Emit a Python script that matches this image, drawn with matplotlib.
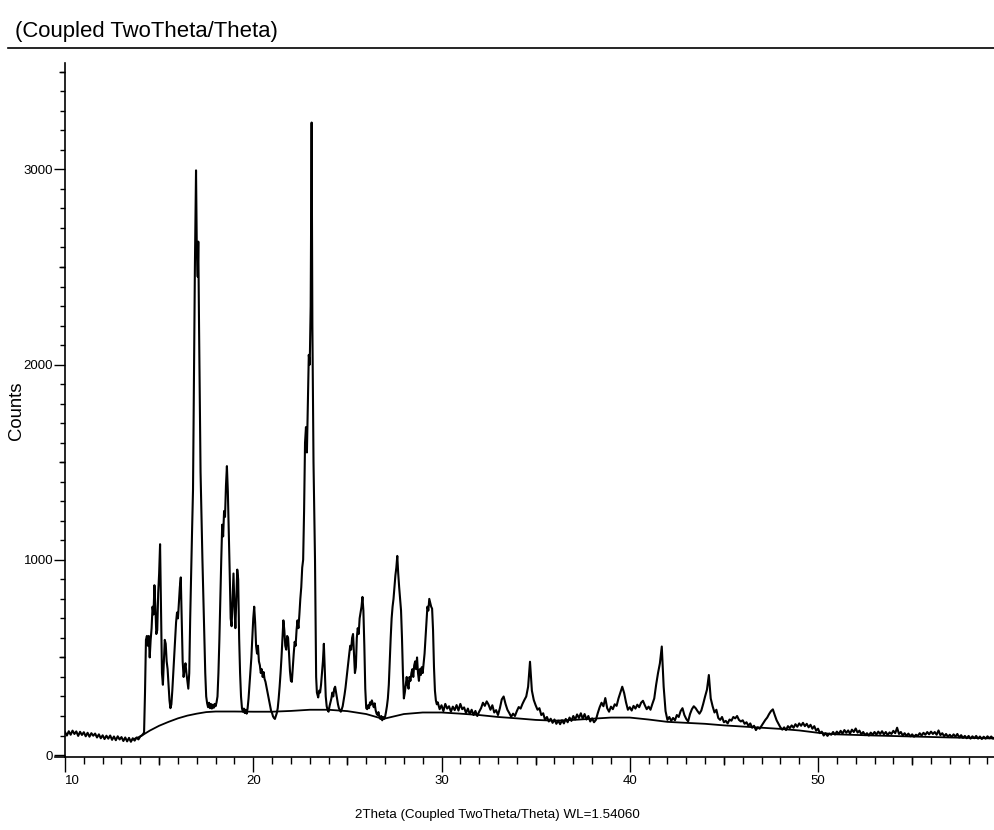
import matplotlib
matplotlib.use("Agg")
import matplotlib.pyplot as plt
from matplotlib.ticker import FixedLocator, MultipleLocator, NullFormatter

# ---------------- data ----------------
theta_low = [10.0, 10.1, 10.2, 10.3, 10.4, 10.5, 10.6, 10.7, 10.8, 10.9,
             11.0, 11.1, 11.2, 11.3, 11.4, 11.5, 11.6, 11.7, 11.8, 11.9,
             12.0, 12.1, 12.2, 12.3, 12.4, 12.5, 12.6, 12.7, 12.8, 12.9,
             13.0, 13.1, 13.2, 13.3, 13.4, 13.5, 13.6, 13.7, 13.8, 13.9,
             14.0, 14.1]
counts_low = [118, 100, 122, 104, 125, 108, 121, 98, 119, 103,
              117, 96, 114, 94, 112, 99, 110, 90, 106, 86,
              101, 82, 99, 84, 100, 78, 95, 76, 96, 80,
              92, 72, 90, 70, 88, 68, 86, 74, 90, 80,
              96, 102]

theta_peaks = [14.20, 14.25, 14.30, 14.35, 14.40, 14.45, 14.50, 14.55, 14.60, 14.65,
               14.70, 14.75, 14.80, 14.85, 14.90, 14.95, 15.00, 15.05, 15.10, 15.15,
               15.20, 15.25, 15.30, 15.35, 15.40, 15.45, 15.50, 15.55, 15.60, 15.65,
               15.70, 15.75, 15.80, 15.85, 15.90, 15.95, 16.00, 16.05, 16.10, 16.15,
               16.20, 16.25, 16.30, 16.35, 16.40, 16.45, 16.50, 16.55, 16.60, 16.65,
               16.70, 16.75, 16.80, 16.85, 16.90, 16.96, 17.00, 17.05, 17.08, 17.12,
               17.20, 17.30, 17.40, 17.45, 17.50, 17.55, 17.60, 17.65, 17.70, 17.75,
               17.80, 17.85, 17.90, 17.95, 18.00, 18.05, 18.10, 18.15, 18.20, 18.25,
               18.30, 18.35, 18.40, 18.45, 18.50, 18.55, 18.60, 18.65, 18.70, 18.75,
               18.80, 18.85, 18.90, 18.95, 19.00, 19.05, 19.10, 19.15, 19.20, 19.25,
               19.30, 19.35, 19.40, 19.45, 19.50, 19.55, 19.60, 19.65, 19.70, 19.75,
               19.80, 19.85, 19.90, 19.95, 20.00, 20.05, 20.10, 20.15, 20.20, 20.25,
               20.30, 20.35, 20.40, 20.45, 20.50, 20.55, 20.60, 20.65, 20.70, 20.75,
               20.80, 20.85, 20.90, 20.95, 21.00, 21.05, 21.10, 21.15, 21.20, 21.25,
               21.30, 21.35, 21.40, 21.45, 21.50, 21.55, 21.60, 21.65, 21.70, 21.75,
               21.80, 21.85, 21.90, 21.95, 22.00, 22.05, 22.10, 22.15, 22.20, 22.25,
               22.30, 22.35, 22.40, 22.45, 22.50, 22.55, 22.60, 22.65, 22.70, 22.75,
               22.80, 22.85, 22.90, 22.95, 23.00, 23.05, 23.10, 23.14, 23.20, 23.28,
               23.34, 23.38, 23.45, 23.50, 23.55, 23.60, 23.65, 23.70, 23.75, 23.80,
               23.85, 23.90, 23.95, 24.00, 24.05, 24.10, 24.15, 24.20, 24.25, 24.30,
               24.35, 24.40, 24.45, 24.50, 24.55, 24.60, 24.65, 24.70, 24.75, 24.80,
               24.85, 24.90, 24.95, 25.00, 25.05, 25.10, 25.15, 25.20, 25.25, 25.30,
               25.35, 25.40, 25.45, 25.50, 25.55, 25.60, 25.65, 25.70, 25.75, 25.80,
               25.85, 25.90, 25.95, 26.00, 26.05, 26.10, 26.15, 26.20, 26.25, 26.30,
               26.35, 26.40, 26.45, 26.50, 26.55, 26.60, 26.65, 26.70, 26.75, 26.80,
               26.85, 26.90, 26.95, 27.00, 27.05, 27.10, 27.15, 27.20, 27.25, 27.30,
               27.35, 27.40, 27.45, 27.50, 27.55, 27.60, 27.65, 27.70, 27.75, 27.80,
               27.85, 27.90, 27.95, 28.00, 28.05, 28.10, 28.15, 28.20, 28.25, 28.30,
               28.35, 28.40, 28.45, 28.50, 28.55, 28.60, 28.65, 28.70, 28.75, 28.80,
               28.85, 28.90, 28.95, 29.00, 29.05, 29.10, 29.15, 29.20, 29.25, 29.30,
               29.35, 29.40, 29.45, 29.50, 29.55, 29.60, 29.65, 29.70, 29.75]
counts_peaks = [115, 320, 590, 610, 560, 610, 500, 590, 650, 760,
                720, 870, 760, 620, 640, 830, 930, 1080, 760, 420,
                360, 470, 590, 570, 480, 440, 360, 280, 240, 260,
                330, 420, 520, 600, 680, 730, 700, 780, 860, 910,
                700, 480, 400, 440, 470, 420, 380, 340, 420, 700,
                930, 1150, 1360, 1900, 2500, 2995, 2600, 2450, 2630, 2200,
                1450, 1000, 620, 420, 300, 265, 245, 268, 240, 262,
                238, 258, 242, 262, 250, 270, 300, 420, 590, 800,
                1000, 1180, 1120, 1250, 1220, 1380, 1480, 1350, 1150, 930,
                700, 660, 800, 930, 760, 650, 800, 950, 900, 600,
                420, 300, 240, 222, 238, 215, 232, 212, 240, 290,
                360, 430, 500, 600, 700, 760, 680, 560, 520, 560,
                480, 460, 420, 440, 400, 425, 390, 375, 350, 325,
                300, 275, 250, 225, 215, 198, 190, 185, 200, 215,
                240, 290, 350, 420, 500, 600, 690, 640, 560, 540,
                610, 600, 520, 430, 380, 375, 450, 520, 580, 560,
                640, 690, 650, 720, 800, 860, 960, 1000, 1250, 1600,
                1680, 1550, 1800, 2050, 2000, 2300, 3240, 2200, 1500, 1000,
                400, 320, 295, 330, 320, 360, 420, 480, 570, 430,
                300, 250, 230, 222, 250, 270, 290, 320, 300, 340,
                350, 320, 290, 260, 240, 230, 222, 235, 250, 280,
                310, 345, 390, 430, 480, 520, 560, 540, 600, 620,
                520, 420, 450, 600, 650, 620, 700, 730, 760, 810,
                740, 560, 340, 240, 235, 255, 240, 270, 258, 280,
                262, 245, 265, 230, 212, 205, 220, 195, 185, 200,
                178, 195, 185, 195, 220, 250, 290, 360, 480, 600,
                700, 760, 800, 860, 920, 960, 1020, 930, 860, 800,
                740, 600, 420, 290, 320, 360, 400, 360, 340, 400,
                380, 420, 440, 400, 460, 480, 440, 500, 420, 380,
                440, 410, 450, 420, 470, 520, 600, 680, 760, 740,
                800, 780, 760, 750, 640, 450, 330, 280, 260]

theta_high = [29.8, 29.9,
              30.0, 30.1, 30.2, 30.3, 30.4, 30.5, 30.6, 30.7, 30.8, 30.9,
              31.0, 31.1, 31.2, 31.3, 31.4, 31.5, 31.6, 31.7, 31.8, 31.9,
              32.0, 32.1, 32.2, 32.3, 32.4, 32.5, 32.6, 32.7, 32.8, 32.9,
              33.0, 33.1, 33.2, 33.3, 33.4, 33.5, 33.6, 33.7, 33.8, 33.9,
              34.0, 34.1, 34.2, 34.3, 34.4, 34.5, 34.6, 34.7, 34.8, 34.9,
              35.0, 35.1, 35.2, 35.3, 35.4, 35.5, 35.6, 35.7, 35.8, 35.9,
              36.0, 36.1, 36.2, 36.3, 36.4, 36.5, 36.6, 36.7, 36.8, 36.9,
              37.0, 37.1, 37.2, 37.3, 37.4, 37.5, 37.6, 37.7, 37.8, 37.9,
              38.0, 38.1, 38.2, 38.3, 38.4, 38.5, 38.6, 38.7, 38.8, 38.9,
              39.0, 39.1, 39.2, 39.3, 39.4, 39.5, 39.6, 39.7, 39.8, 39.9,
              40.0, 40.1, 40.2, 40.3, 40.4, 40.5, 40.6, 40.7, 40.8, 40.9,
              41.0, 41.1, 41.2, 41.3, 41.4, 41.5, 41.6, 41.7, 41.8, 41.9,
              42.0, 42.1, 42.2, 42.3, 42.4, 42.5, 42.6, 42.7, 42.8, 42.9,
              43.0, 43.1, 43.2, 43.3, 43.4, 43.5, 43.6, 43.7, 43.8, 43.9,
              44.0, 44.1, 44.2, 44.3, 44.4, 44.5, 44.6, 44.7, 44.8, 44.9,
              45.0, 45.1, 45.2, 45.3, 45.4, 45.5, 45.6, 45.7, 45.8, 45.9,
              46.0, 46.1, 46.2, 46.3, 46.4, 46.5, 46.6, 46.7, 46.8, 46.9,
              47.0, 47.1, 47.2, 47.3, 47.4, 47.5, 47.6, 47.7, 47.8, 47.9,
              48.0, 48.1, 48.2, 48.3, 48.4, 48.5, 48.6, 48.7, 48.8, 48.9,
              49.0, 49.1, 49.2, 49.3, 49.4, 49.5, 49.6, 49.7, 49.8, 49.9,
              50.0, 50.1, 50.2, 50.3, 50.4, 50.5, 50.6, 50.7, 50.8, 50.9,
              51.0, 51.1, 51.2, 51.3, 51.4, 51.5, 51.6, 51.7, 51.8, 51.9,
              52.0, 52.1, 52.2, 52.3, 52.4, 52.5, 52.6, 52.7, 52.8, 52.9,
              53.0, 53.1, 53.2, 53.3, 53.4, 53.5, 53.6, 53.7, 53.8, 53.9,
              54.0, 54.1, 54.2, 54.3, 54.4, 54.5, 54.6, 54.7, 54.8, 54.9,
              55.0, 55.1, 55.2, 55.3, 55.4, 55.5, 55.6, 55.7, 55.8, 55.9,
              56.0, 56.1, 56.2, 56.3, 56.4, 56.5, 56.6, 56.7, 56.8, 56.9,
              57.0, 57.1, 57.2, 57.3, 57.4, 57.5, 57.6, 57.7, 57.8, 57.9,
              58.0, 58.1, 58.2, 58.3, 58.4, 58.5, 58.6, 58.7, 58.8, 58.9,
              59.0, 59.1, 59.2, 59.3, 59.4]
counts_high = [270, 235,
               255, 225, 262, 238, 250, 222, 248, 230, 256, 228,
               262, 235, 244, 215, 238, 210, 232, 205, 226, 200,
               222, 240, 268, 252, 275, 258, 232, 255, 218, 230,
               205, 240, 285, 300, 262, 232, 215, 196, 212, 200,
               225, 246, 238, 262, 282, 300, 350, 478, 330, 282,
               255, 232, 240, 205, 214, 180, 195, 172, 186, 165,
               182, 160, 176, 158, 178, 162, 185, 168, 192, 175,
               200, 182, 208, 190, 214, 186, 210, 182, 200, 172,
               188, 168, 180, 215, 245, 268, 250, 292, 240, 222,
               248, 235, 260, 252, 290, 320, 350, 318, 270, 232,
               245, 228, 252, 238, 258, 245, 268, 278, 255, 235,
               248, 232, 262, 290, 360, 420, 470, 556, 350, 225,
               180, 195, 175, 190, 178, 205, 195, 225, 240, 205,
               185, 172, 210, 235, 250, 240, 225, 212, 228, 262,
               300, 335, 410, 290, 250, 218, 232, 190, 180, 195,
               168, 175, 162, 182, 176, 195, 188, 200, 180, 172,
               178, 160, 168, 150, 162, 140, 150, 128, 142, 135,
               150, 165, 180, 192, 210, 225, 234, 205, 178, 160,
               142, 130, 142, 128, 148, 138, 152, 140, 158, 145,
               162, 150, 165, 148, 160, 142, 155, 135, 148, 125,
               135, 112, 120, 100, 112, 98, 110, 104, 118, 105,
               120, 108, 124, 110, 128, 114, 126, 110, 130, 118,
               136, 115, 125, 106, 118, 102, 112, 100, 115, 104,
               118, 105, 120, 108, 122, 106, 118, 102, 116, 108,
               124, 112, 140, 108, 118, 100, 112, 98, 110, 96,
               106, 94, 104, 98, 112, 100, 114, 104, 118, 106,
               120, 108, 118, 104, 126, 102, 112, 96, 108, 94,
               104, 92, 106, 94, 108, 90, 102, 88, 98, 86,
               98, 84, 96, 86, 98, 84, 95, 82, 94, 84,
               96, 86, 95, 84, 92]

bg_theta = [13.6, 14.0, 14.5, 15.0, 15.5, 16.0, 16.5, 17.0, 17.5, 18.0,
            19.0, 20.0, 21.0, 22.0, 23.0, 24.0, 25.0, 26.0, 26.9, 28.0,
            29.0, 30.0, 31.0, 32.0, 33.0, 34.0, 35.0, 36.0, 37.0, 38.0,
            39.0, 40.0, 41.0, 42.0, 43.0, 44.0, 45.0, 46.0, 47.0, 48.0,
            49.0, 50.0, 51.0, 53.0, 55.0, 57.0, 59.4]
bg_counts = [80, 95, 125, 150, 170, 188, 202, 212, 220, 223,
             223, 222, 222, 226, 232, 232, 225, 210, 185, 210,
             218, 218, 212, 205, 195, 188, 180, 176, 180, 186,
             192, 192, 182, 170, 165, 160, 152, 146, 140, 134,
             126, 114, 106, 100, 95, 90, 85]

x_labeled_ticks = [10, 20, 30, 40, 50]
x_mid_ticks = [15, 25, 35, 45, 55]
y_labeled_ticks = [0, 1000, 2000, 3000]
y_mid_ticks = [500, 1500, 2500, 3500]

title_text = "(Coupled TwoTheta/Theta)"
x_label_text = "2Theta (Coupled TwoTheta/Theta) WL=1.54060"
y_label_text = "Counts"

# ---------------- figure ----------------
W, H = 995, 830
font = ["Liberation Sans", "DejaVu Sans"]

fig = plt.figure(figsize=(W / 100, H / 100), dpi=100)
ax_l, ax_r, ax_t, ax_b = 65, 995, 63, 757
ax = fig.add_axes([ax_l / W, 1 - ax_b / H, (ax_r - ax_l) / W, (ax_b - ax_t) / H])

theta_all = theta_low + theta_peaks + theta_high
counts_all = counts_low + counts_peaks + counts_high
ax.plot(theta_all, counts_all, color="black", lw=1.5, solid_joinstyle="round")
ax.plot(bg_theta, bg_counts, color="black", lw=1.3)

ax.set_xlim(10, 59.4)
ax.set_ylim(-10, 3545)

for s in ("top", "right"):
    ax.spines[s].set_visible(False)
for s in ("left", "bottom"):
    ax.spines[s].set_linewidth(1.2)

ax.xaxis.set_major_locator(FixedLocator(x_labeled_ticks))
ax.xaxis.set_minor_locator(MultipleLocator(1))
ax.yaxis.set_major_locator(FixedLocator(y_labeled_ticks))
ax.yaxis.set_minor_locator(MultipleLocator(100))
ax.xaxis.set_minor_formatter(NullFormatter())
ax.yaxis.set_minor_formatter(NullFormatter())

ax.tick_params(axis="x", which="major", direction="out", length=11, width=1.0, pad=2,
               labelsize=9.5)
ax.tick_params(axis="x", which="minor", direction="out", length=5, width=1.0)
ax.tick_params(axis="y", which="major", direction="out", length=8, width=1.0, pad=0.5,
               labelsize=9.5)
ax.tick_params(axis="y", which="minor", direction="out", length=3.5, width=1.0)
for lbl in ax.get_xticklabels() + ax.get_yticklabels():
    lbl.set_family(font)

# medium-length ticks at the 5-degree / 500-count marks
ax_h_px = ax_b - ax_t
ax_w_px = ax_r - ax_l
ax.vlines(x_mid_ticks, -8 / ax_h_px, 0, transform=ax.get_xaxis_transform(),
          clip_on=False, color="black", lw=1.0)
ax.hlines(y_mid_ticks, -6 / ax_w_px, 0, transform=ax.get_yaxis_transform(),
          clip_on=False, color="black", lw=1.0)
# x axis line running a little past the y axis
ax.plot([-10 / ax_w_px, 0], [0, 0], transform=ax.transAxes, clip_on=False,
        color="black", lw=1.2)

# title and rule under it
fig.text(15 / W, 1 - 31 / H, title_text, family=font, fontsize=15.9,
         ha="left", va="center")
fig.add_artist(plt.Line2D([8 / W, 1.0], [1 - 48.5 / H, 1 - 48.5 / H],
                          transform=fig.transFigure, color="black", lw=1.2))

fig.text(497 / W, 1 - 815 / H, x_label_text, family=font, fontsize=9.6,
         ha="center", va="center")
fig.text(17 / W, 1 - 411 / H, y_label_text, family=font, fontsize=13.3,
         rotation=90, ha="center", va="center")

fig.canvas.draw()
for lbl in ax.get_xticklabels():
    if lbl.get_text() == "10":
        lbl.set_horizontalalignment("left")

fig.savefig("out.png", dpi=100)
